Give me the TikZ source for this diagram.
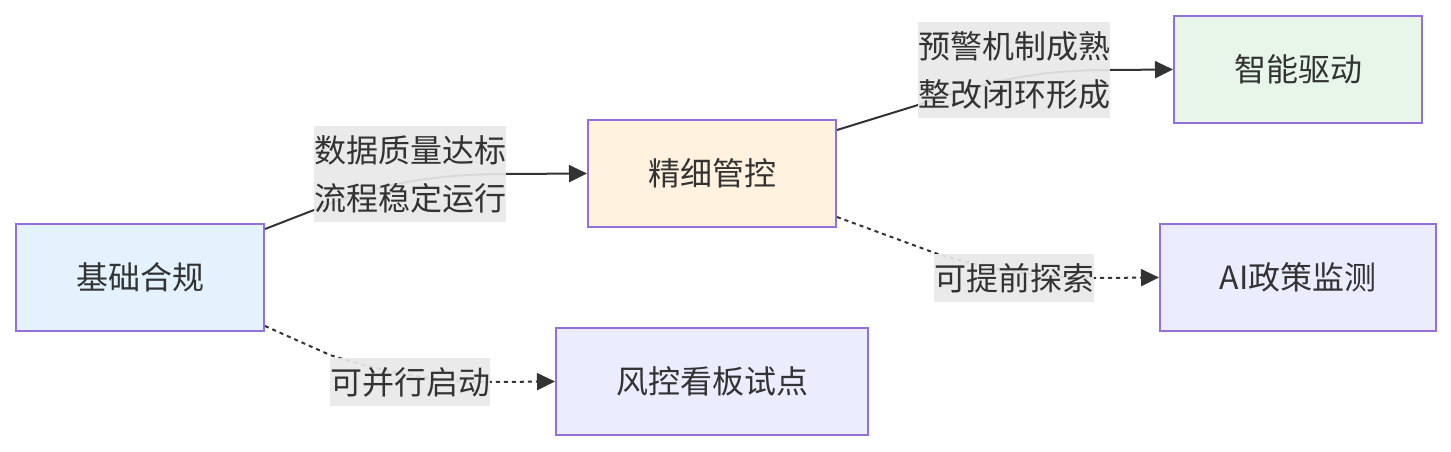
\documentclass[tikz,border=0pt]{standalone}
\usepackage{fontspec}
\setmainfont{Noto Sans CJK SC}
\usetikzlibrary{arrows.meta,calc}
\definecolor{bordc}{HTML}{9370DB}
\definecolor{txtc}{HTML}{333333}
\definecolor{lblbg}{HTML}{E8E8E8}
\definecolor{fblue}{HTML}{E3F2FD}
\definecolor{forange}{HTML}{FFF3E0}
\definecolor{fgreen}{HTML}{E8F5E9}
\definecolor{fpurple}{HTML}{ECECFF}
\tikzset{
  box/.style={draw=bordc, line width=2pt, minimum height=107pt, inner sep=0pt, text=txtc, font=\fontsize{32}{38}\selectfont},
  lbl/.style={fill=lblbg, fill opacity=0.92, text opacity=1, text=txtc, inner sep=0pt, align=center, font=\fontsize{32}{48}\selectfont},
  edge/.style={draw=txtc, line width=2pt, -{Triangle[length=18pt,width=17pt]}},
  dedge/.style={edge, dash pattern=on 4pt off 4pt}
}
\begin{document}
\begin{tikzpicture}[x=1pt,y=-1pt]
\useasboundingbox (0,0) rectangle (1451,452);
% nodes
\node[box, fill=fblue, minimum width=248pt] (A) at (140,277.5) {基础合规};
\node[box, fill=forange, minimum width=248pt] (B) at (712,173.5) {精细管控};
\node[box, fill=fgreen, minimum width=248pt] (C) at (1298,69.5) {智能驱动};
\node[box, fill=fpurple, minimum width=276pt] (D) at (1298,277.5) {AI政策监测};
\node[box, fill=fpurple, minimum width=312pt] (E) at (712,381.5) {风控看板试点};
% anchor points
\coordinate (a1) at ($(A.north east)+(0,6)$);
\coordinate (a2) at ($(A.south east)+(0,-6)$);
\coordinate (b1) at ($(B.north east)+(0,11)$);
\coordinate (b2) at ($(B.south east)+(0,-11)$);
% edges
\draw[edge] (a1) -- (314,210) .. controls (380,182) and (440,174) .. (506,174) -- (B.west);
\draw[edge] (b1) -- (918,105) .. controls (990,80) and (1040,70) .. (1110,70) -- (C.west);
\draw[dedge] (b2) -- (935,253) .. controls (990,270) and (1040,278) .. (1094,278) -- (D.west);
\draw[dedge] (a2) -- (330,355) .. controls (390,374) and (440,382) .. (490,382) -- (E.west);
% labels
\node[lbl, minimum width=192pt, minimum height=96pt] (l1) at (410,174) {数据质量达标\\流程稳定运行};
\node[lbl, minimum width=192pt, minimum height=96pt] (l2) at (1014,70) {预警机制成熟\\整改闭环形成};
\node[lbl, minimum width=160pt, minimum height=48pt] (l3) at (1014,278) {可提前探索};
\node[lbl, minimum width=160pt, minimum height=48pt] (l4) at (410,382) {可并行启动};
\end{tikzpicture}
\end{document}
